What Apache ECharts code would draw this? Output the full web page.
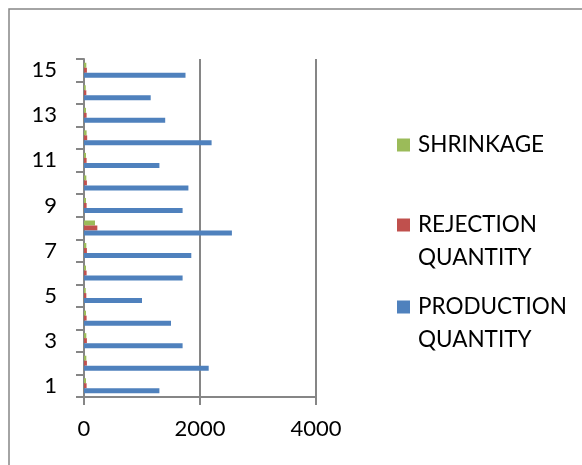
<!DOCTYPE html>
<html><head><meta charset="utf-8">
<script src="https://cdn.jsdelivr.net/npm/echarts@6/dist/echarts.min.js"></script>
<style>html,body{margin:0;padding:0;background:#fff}#c{width:582px;height:465px}</style>
</head><body><div id="c"></div>
<script>
const categories = ['1','2','3','4','5','6','7','8','9','10','11','12','13','14','15'];
const production = [1300, 2150, 1700, 1500, 1000, 1700, 1850, 2550, 1700, 1800, 1300, 2200, 1400, 1150, 1750];
const rejection = [45, 50, 50, 45, 40, 45, 50, 230, 45, 50, 45, 55, 45, 40, 50];
const shrinkage = [35, 40, 40, 35, 30, 35, 40, 190, 35, 40, 35, 45, 35, 30, 40];
const xTicks = [0, 2000, 4000];
const names = ['PRODUCTION\nQUANTITY', 'REJECTION\nQUANTITY', 'SHRINKAGE'];
const colors = ['#4F81BD', '#C0504D', '#9BBB59'];

const FONT = 'Lato';
const chart = echarts.init(document.getElementById('c'));
const legendText = {fontFamily: FONT, fontSize: 22.5, color: '#000', lineHeight: 33, padding: [0,0,0,3]};
const legendBase = {
  orient: 'vertical', left: 397, padding: 0, itemWidth: 13, itemHeight: 13,
  itemGap: 0, icon: 'rect', selectedMode: false, textStyle: legendText
};
chart.setOption({
  animation: false,
  graphic: [{type: 'rect', shape: {x: 9, y: 9, width: 600, height: 500},
    style: {fill: 'none', stroke: '#868686', lineWidth: 1.5}, silent: true}],
  grid: {left: 84, top: 59, width: 232, height: 338, containLabel: false},
  legend: [
    Object.assign({}, legendBase, {top: 128.5, data: [names[2]]}),
    Object.assign({}, legendBase, {top: 175.5, data: [names[1]], formatter: n => '\n' + n}),
    Object.assign({}, legendBase, {top: 257.5, data: [names[0]], formatter: n => '\n' + n})
  ],
  xAxis: {
    type: 'value', min: xTicks[0], max: xTicks[xTicks.length - 1], interval: xTicks[1] - xTicks[0],
    axisLine: {show: true, lineStyle: {color: '#868686', width: 2}},
    axisTick: {show: true, length: 8, lineStyle: {color: '#868686', width: 2}},
    axisLabel: {fontFamily: FONT, fontSize: 22, color: '#000', margin: 21, formatter: v => String(v)},
    splitLine: {show: true, lineStyle: {color: '#868686', width: 2}}
  },
  yAxis: {
    type: 'category', data: categories,
    axisLine: {show: true, lineStyle: {color: '#868686', width: 2}},
    axisTick: {show: true, length: 8, interval: 0, lineStyle: {color: '#868686', width: 2}},
    axisLabel: {interval: 1, fontFamily: FONT, fontSize: 22, color: '#000', margin: 27}
  },
  series: [
    {name: names[2], type: 'bar', data: shrinkage, itemStyle: {color: colors[2]}, barWidth: 5, barGap: '0%'},
    {name: names[1], type: 'bar', data: rejection, itemStyle: {color: colors[1]}, barWidth: 5, barGap: '0%'},
    {name: names[0], type: 'bar', data: production, itemStyle: {color: colors[0]}, barWidth: 5, barGap: '0%'}
  ]
});
</script></body></html>
